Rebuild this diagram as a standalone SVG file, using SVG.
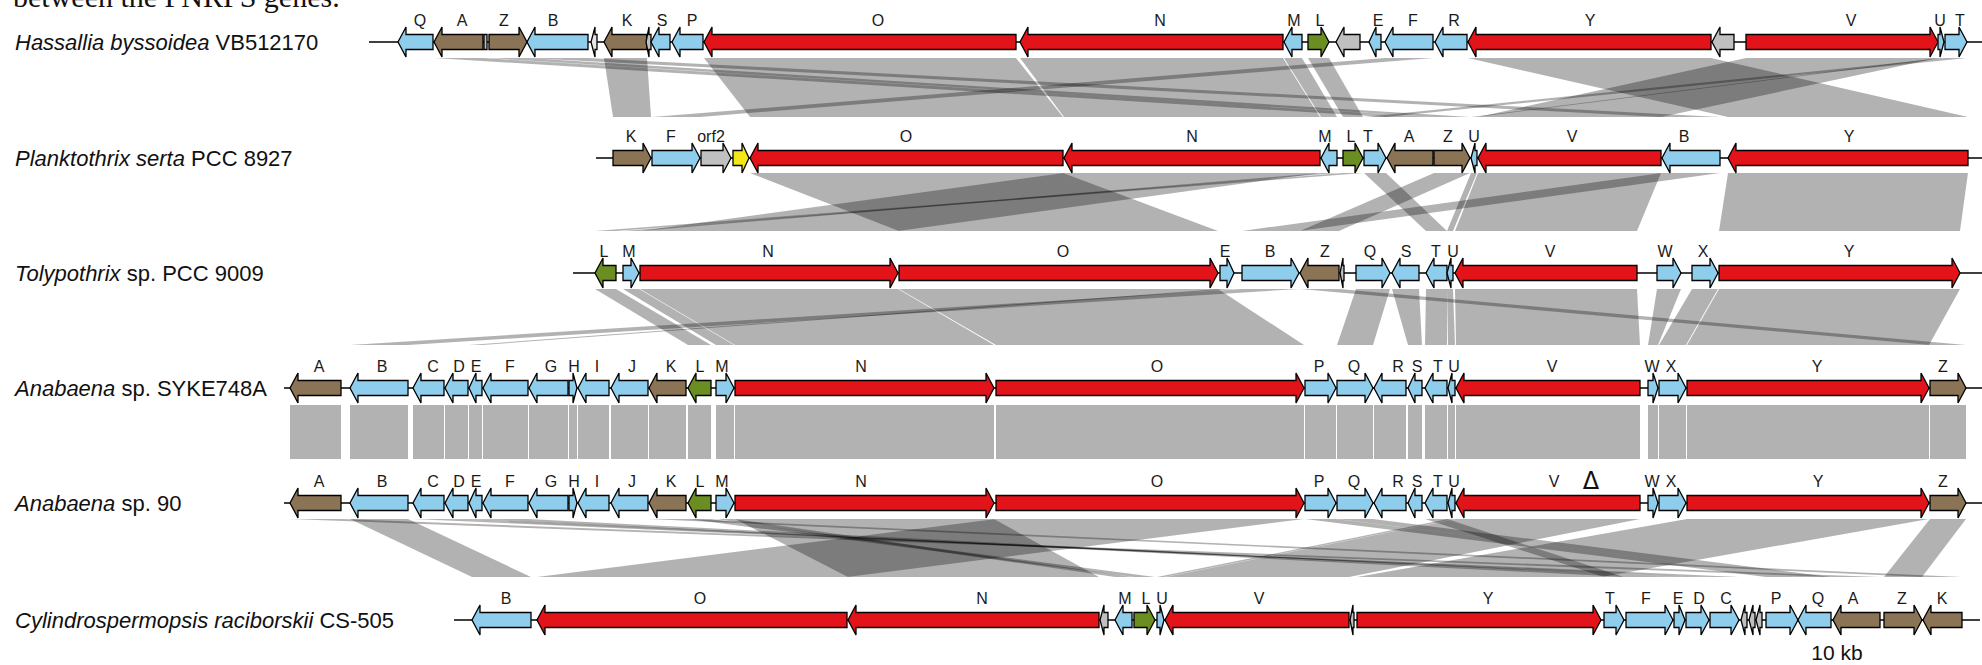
<svg xmlns="http://www.w3.org/2000/svg" width="1982" height="665" viewBox="0 0 1982 665">
<style>
path.g{stroke:#000;stroke-width:1.3;stroke-linejoin:miter}
.b{fill:#8fcdec}.r{fill:#e3131a}.n{fill:#8b7355}.v{fill:#6b8e23}.x{fill:#c0c0c0}.y{fill:#f3e619}.w{fill:#e6e6e6}
text.l{font-family:"Liberation Sans",Arial,sans-serif;font-size:16px;text-anchor:middle;fill:#1a1a1a}
text.nm{font-family:"Liberation Sans",Arial,sans-serif;font-size:22px;fill:#111}
.bb{stroke:#000;stroke-width:1.5}
.band{fill:#000;fill-opacity:0.3;stroke:none}
</style>
<rect width="1982" height="665" fill="#fff"/>
<text x="13" y="7" font-family="Liberation Serif, serif" font-size="30" fill="#111">between the PNRPS genes.</text>

<g id="connectors">
<g id="bands-1-2">
<polygon class="band" points="604,58 647,58 651,117 613,117"/>
<polygon class="band" points="704,58 1016,58 1063,117 750,117"/>
<polygon class="band" points="1020,58 1283,58 1320,117 1064,117"/>
<polygon class="band" points="1284,58 1302,58 1337,117 1321,117"/>
<polygon class="band" points="1308,58 1329,58 1363,117 1343,117"/>
<polygon class="band" points="1945,58 1967,58 1386,117 1364,117"/>
<polygon class="band" points="1938,58 1944,58 1477,117 1471,117"/>
<polygon class="band" points="1746,58 1938,58 1661,117 1478,117"/>
<polygon class="band" points="1468,58 1711,58 1968,117 1728,117"/>
<polygon class="band" points="527,58 588,58 1720,117 1662,117"/>
<polygon class="band" points="434,58 483,58 1433,117 1387,117"/>
<polygon class="band" points="489,58 527,58 1470,117 1434,117"/>
<polygon class="band" points="1385,58 1433,58 700,117 652,117"/>
</g>
<g id="bands-2-3">
<polygon class="band" points="750,173 1063,173 1218,231 899,231"/>
<polygon class="band" points="1064,173 1320,173 898,231 640,231"/>
<polygon class="band" points="1321,173 1337,173 639,231 623,231"/>
<polygon class="band" points="1343,173 1363,173 616,231 595,231"/>
<polygon class="band" points="1364,173 1386,173 1447,231 1426,231"/>
<polygon class="band" points="1434,173 1470,173 1339,231 1300,231"/>
<polygon class="band" points="1471,173 1477,173 1453,231 1447,231"/>
<polygon class="band" points="1478,173 1661,173 1637,231 1455,231"/>
<polygon class="band" points="1662,173 1720,173 1299,231 1242,231"/>
<polygon class="band" points="1728,173 1968,173 1960,231 1719,231"/>
</g>
<g id="bands-3-4">
<polygon class="band" points="595,289 616,289 711,345 688,345"/>
<polygon class="band" points="623,289 639,289 734,345 716,345"/>
<polygon class="band" points="640,289 898,289 994,345 735,345"/>
<polygon class="band" points="899,289 1218,289 1304,345 996,345"/>
<polygon class="band" points="1220,289 1234,289 482,345 469,345"/>
<polygon class="band" points="1242,289 1299,289 408,345 350,345"/>
<polygon class="band" points="1300,289 1339,289 1966,345 1930,345"/>
<polygon class="band" points="1356,289 1390,289 1373,345 1337,345"/>
<polygon class="band" points="1392,289 1419,289 1422,345 1408,345"/>
<polygon class="band" points="1426,289 1447,289 1447,345 1425,345"/>
<polygon class="band" points="1447,289 1453,289 1455,345 1448,345"/>
<polygon class="band" points="1455,289 1637,289 1640,345 1456,345"/>
<polygon class="band" points="1657,289 1681,289 1658,345 1648,345"/>
<polygon class="band" points="1692,289 1718,289 1686,345 1659,345"/>
<polygon class="band" points="1719,289 1960,289 1929,345 1687,345"/>
</g>
<g id="bands-4-5">
<rect class="band" x="290" y="405" width="51" height="54"/>
<rect class="band" x="350" y="405" width="58" height="54"/>
<rect class="band" x="413" y="405" width="31" height="54"/>
<rect class="band" x="445" y="405" width="23" height="54"/>
<rect class="band" x="469" y="405" width="13" height="54"/>
<rect class="band" x="483" y="405" width="45" height="54"/>
<rect class="band" x="529" y="405" width="39" height="54"/>
<rect class="band" x="569" y="405" width="8" height="54"/>
<rect class="band" x="578" y="405" width="31" height="54"/>
<rect class="band" x="611" y="405" width="37" height="54"/>
<rect class="band" x="649" y="405" width="37" height="54"/>
<rect class="band" x="688" y="405" width="23" height="54"/>
<rect class="band" x="716" y="405" width="18" height="54"/>
<rect class="band" x="735" y="405" width="259" height="54"/>
<rect class="band" x="996" y="405" width="308" height="54"/>
<rect class="band" x="1305" y="405" width="31" height="54"/>
<rect class="band" x="1337" y="405" width="36" height="54"/>
<rect class="band" x="1374" y="405" width="32" height="54"/>
<rect class="band" x="1408" y="405" width="14" height="54"/>
<rect class="band" x="1425" y="405" width="22" height="54"/>
<rect class="band" x="1448" y="405" width="7" height="54"/>
<rect class="band" x="1456" y="405" width="184" height="54"/>
<rect class="band" x="1648" y="405" width="10" height="54"/>
<rect class="band" x="1659" y="405" width="27" height="54"/>
<rect class="band" x="1687" y="405" width="242" height="54"/>
<rect class="band" x="1930" y="405" width="36" height="54"/>
</g>
<g id="bands-5-6">
<polygon class="band" points="290,519 341,519 1880,577 1833,577"/>
<polygon class="band" points="350,519 408,519 531,577 472,577"/>
<polygon class="band" points="413,519 444,519 1739,577 1710,577"/>
<polygon class="band" points="445,519 468,519 1709,577 1686,577"/>
<polygon class="band" points="469,519 482,519 1685,577 1674,577"/>
<polygon class="band" points="483,519 528,519 1673,577 1626,577"/>
<polygon class="band" points="649,519 686,519 1962,577 1923,577"/>
<polygon class="band" points="688,519 711,519 1155,577 1134,577"/>
<polygon class="band" points="716,519 734,519 1132,577 1115,577"/>
<polygon class="band" points="735,519 994,519 1099,577 848,577"/>
<polygon class="band" points="996,519 1304,519 847,577 537,577"/>
<polygon class="band" points="1305,519 1336,519 1798,577 1766,577"/>
<polygon class="band" points="1337,519 1373,519 1831,577 1798,577"/>
<polygon class="band" points="1425,519 1447,519 1624,577 1604,577"/>
<polygon class="band" points="1448,519 1455,519 1164,577 1157,577"/>
<polygon class="band" points="1456,519 1640,519 1349,577 1165,577"/>
<polygon class="band" points="1687,519 1929,519 1601,577 1357,577"/>
<polygon class="band" points="1930,519 1966,519 1922,577 1884,577"/>
</g>
</g>

<g id="row1-hassallia" transform="translate(0,42)">
<text class="nm" x="15" y="8"><tspan font-style="italic">Hassallia byssoidea</tspan> VB512170</text>
<line class="bb" x1="369" y1="0" x2="1982" y2="0"/>
<g id="r1-Q"><path class="g b" d="M433,-7.5H406V-15L398,0L406,15V7.5H433Z"/><text class="l" x="420" y="-16">Q</text></g>
<g id="r1-A"><path class="g n" d="M483,-7.5H442V-15L434,0L442,15V7.5H483Z"/><text class="l" x="462" y="-16">A</text></g>
<g id="r1-s1"><path class="g x" d="M484,-7.5H487V7.5H484Z"/></g>
<g id="r1-Z"><path class="g n" d="M489,-7.5H519V-15L527,0L519,15V7.5H489Z"/><text class="l" x="504" y="-16">Z</text></g>
<g id="r1-B"><path class="g b" d="M588,-7.5H535V-15L527,0L535,15V7.5H588Z"/><text class="l" x="553" y="-16">B</text></g>
<g id="r1-s2"><path class="g w" d="M597,-7.5H595V-15L591,0L595,15V7.5H597Z"/></g>
<g id="r1-K"><path class="g n" d="M647,-7.5H612V-15L604,0L612,15V7.5H647Z"/><text class="l" x="627" y="-16">K</text></g>
<g id="r1-s3"><path class="g x" d="M651,-7.5H649V-15L646,0L649,15V7.5H651Z"/></g>
<g id="r1-S"><path class="g b" d="M670,-7.5H659V-15L651,0L659,15V7.5H670Z"/><text class="l" x="662" y="-16">S</text></g>
<g id="r1-P"><path class="g b" d="M703,-7.5H680V-15L672,0L680,15V7.5H703Z"/><text class="l" x="692" y="-16">P</text></g>
<g id="r1-O"><path class="g r" d="M1016,-7.5H712V-15L704,0L712,15V7.5H1016Z"/><text class="l" x="878" y="-16">O</text></g>
<g id="r1-N"><path class="g r" d="M1283,-7.5H1028V-15L1020,0L1028,15V7.5H1283Z"/><text class="l" x="1160" y="-16">N</text></g>
<g id="r1-M"><path class="g b" d="M1302,-7.5H1292V-15L1284,0L1292,15V7.5H1302Z"/><text class="l" x="1294" y="-16">M</text></g>
<g id="r1-L"><path class="g v" d="M1308,-7.5H1321V-15L1329,0L1321,15V7.5H1308Z"/><text class="l" x="1320" y="-16">L</text></g>
<g id="r1-s4"><path class="g x" d="M1360,-7.5H1344V-15L1336,0L1344,15V7.5H1360Z"/></g>
<g id="r1-E"><path class="g b" d="M1381,-7.5H1376V-15L1369,0L1376,15V7.5H1381Z"/><text class="l" x="1378" y="-16">E</text></g>
<g id="r1-F"><path class="g b" d="M1433,-7.5H1393V-15L1385,0L1393,15V7.5H1433Z"/><text class="l" x="1413" y="-16">F</text></g>
<g id="r1-R"><path class="g b" d="M1467,-7.5H1443V-15L1435,0L1443,15V7.5H1467Z"/><text class="l" x="1454" y="-16">R</text></g>
<g id="r1-Y"><path class="g r" d="M1711,-7.5H1476V-15L1468,0L1476,15V7.5H1711Z"/><text class="l" x="1590" y="-16">Y</text></g>
<g id="r1-s5"><path class="g x" d="M1734,-7.5H1720V-15L1712,0L1720,15V7.5H1734Z"/></g>
<g id="r1-V"><path class="g r" d="M1746,-7.5H1930V-15L1938,0L1930,15V7.5H1746Z"/><text class="l" x="1851" y="-16">V</text></g>
<g id="r1-U"><path class="g b" d="M1938,-7.5H1940V-15L1944,0L1940,15V7.5H1938Z"/><text class="l" x="1940" y="-16">U</text></g>
<g id="r1-T"><path class="g b" d="M1945,-7.5H1959V-15L1967,0L1959,15V7.5H1945Z"/><text class="l" x="1960" y="-16">T</text></g>
</g>

<g id="row2-planktothrix" transform="translate(0,158)">
<text class="nm" x="15" y="8"><tspan font-style="italic">Planktothrix serta</tspan> PCC 8927</text>
<line class="bb" x1="596" y1="0" x2="1982" y2="0"/>
<g id="r2-K"><path class="g n" d="M613,-7.5H643V-15L651,0L643,15V7.5H613Z"/><text class="l" x="631" y="-16">K</text></g>
<g id="r2-F"><path class="g b" d="M652,-7.5H692V-15L700,0L692,15V7.5H652Z"/><text class="l" x="671" y="-16">F</text></g>
<g id="r2-orf2"><path class="g x" d="M701,-7.5H723V-15L731,0L723,15V7.5H701Z"/><text class="l" x="711" y="-16">orf2</text></g>
<g id="r2-y"><path class="g y" d="M733,-7.5H742V-15L749,0L742,15V7.5H733Z"/></g>
<g id="r2-O"><path class="g r" d="M1063,-7.5H758V-15L750,0L758,15V7.5H1063Z"/><text class="l" x="906" y="-16">O</text></g>
<g id="r2-N"><path class="g r" d="M1320,-7.5H1072V-15L1064,0L1072,15V7.5H1320Z"/><text class="l" x="1192" y="-16">N</text></g>
<g id="r2-M"><path class="g b" d="M1337,-7.5H1329V-15L1321,0L1329,15V7.5H1337Z"/><text class="l" x="1325" y="-16">M</text></g>
<g id="r2-L"><path class="g v" d="M1343,-7.5H1355V-15L1363,0L1355,15V7.5H1343Z"/><text class="l" x="1351" y="-16">L</text></g>
<g id="r2-T"><path class="g b" d="M1364,-7.5H1378V-15L1386,0L1378,15V7.5H1364Z"/><text class="l" x="1368" y="-16">T</text></g>
<g id="r2-A"><path class="g n" d="M1433,-7.5H1395V-15L1387,0L1395,15V7.5H1433Z"/><text class="l" x="1409" y="-16">A</text></g>
<g id="r2-Z"><path class="g n" d="M1434,-7.5H1462V-15L1470,0L1462,15V7.5H1434Z"/><text class="l" x="1448" y="-16">Z</text></g>
<g id="r2-U"><path class="g b" d="M1477,-7.5H1475V-15L1471,0L1475,15V7.5H1477Z"/><text class="l" x="1474" y="-16">U</text></g>
<g id="r2-V"><path class="g r" d="M1661,-7.5H1486V-15L1478,0L1486,15V7.5H1661Z"/><text class="l" x="1572" y="-16">V</text></g>
<g id="r2-B"><path class="g b" d="M1720,-7.5H1670V-15L1662,0L1670,15V7.5H1720Z"/><text class="l" x="1684" y="-16">B</text></g>
<g id="r2-Y"><path class="g r" d="M1968,-7.5H1736V-15L1728,0L1736,15V7.5H1968Z"/><text class="l" x="1849" y="-16">Y</text></g>
</g>

<g id="row3-tolypothrix" transform="translate(0,273)">
<text class="nm" x="15" y="8"><tspan font-style="italic">Tolypothrix</tspan> sp. PCC 9009</text>
<line class="bb" x1="573" y1="0" x2="1982" y2="0"/>
<g id="r3-L"><path class="g v" d="M616,-7.5H603V-15L595,0L603,15V7.5H616Z"/><text class="l" x="604" y="-16">L</text></g>
<g id="r3-M"><path class="g b" d="M623,-7.5H631V-15L639,0L631,15V7.5H623Z"/><text class="l" x="629" y="-16">M</text></g>
<g id="r3-N"><path class="g r" d="M640,-7.5H890V-15L898,0L890,15V7.5H640Z"/><text class="l" x="768" y="-16">N</text></g>
<g id="r3-O"><path class="g r" d="M899,-7.5H1210V-15L1218,0L1210,15V7.5H899Z"/><text class="l" x="1063" y="-16">O</text></g>
<g id="r3-E"><path class="g b" d="M1220,-7.5H1227V-15L1234,0L1227,15V7.5H1220Z"/><text class="l" x="1225" y="-16">E</text></g>
<g id="r3-B"><path class="g b" d="M1242,-7.5H1291V-15L1299,0L1291,15V7.5H1242Z"/><text class="l" x="1270" y="-16">B</text></g>
<g id="r3-Z"><path class="g n" d="M1339,-7.5H1308V-15L1300,0L1308,15V7.5H1339Z"/><text class="l" x="1325" y="-16">Z</text></g>
<g id="r3-s1"><path class="g x" d="M1344,-7.5H1343V-15L1340,0L1343,15V7.5H1344Z"/></g>
<g id="r3-Q"><path class="g b" d="M1356,-7.5H1382V-15L1390,0L1382,15V7.5H1356Z"/><text class="l" x="1370" y="-16">Q</text></g>
<g id="r3-S"><path class="g b" d="M1419,-7.5H1400V-15L1392,0L1400,15V7.5H1419Z"/><text class="l" x="1406" y="-16">S</text></g>
<g id="r3-T"><path class="g b" d="M1447,-7.5H1434V-15L1426,0L1434,15V7.5H1447Z"/><text class="l" x="1436" y="-16">T</text></g>
<g id="r3-U"><path class="g b" d="M1453,-7.5H1451V-15L1447,0L1451,15V7.5H1453Z"/><text class="l" x="1453" y="-16">U</text></g>
<g id="r3-V"><path class="g r" d="M1637,-7.5H1463V-15L1455,0L1463,15V7.5H1637Z"/><text class="l" x="1550" y="-16">V</text></g>
<g id="r3-W"><path class="g b" d="M1657,-7.5H1673V-15L1681,0L1673,15V7.5H1657Z"/><text class="l" x="1665" y="-16">W</text></g>
<g id="r3-X"><path class="g b" d="M1692,-7.5H1710V-15L1718,0L1710,15V7.5H1692Z"/><text class="l" x="1703" y="-16">X</text></g>
<g id="r3-Y"><path class="g r" d="M1719,-7.5H1952V-15L1960,0L1952,15V7.5H1719Z"/><text class="l" x="1849" y="-16">Y</text></g>
</g>

<g id="row4-anabaena-syke748a" transform="translate(0,388)">
<text class="nm" x="15" y="8"><tspan font-style="italic">Anabaena</tspan> sp. SYKE748A</text>
<line class="bb" x1="284" y1="0" x2="1982" y2="0"/>
<g id="r4-A"><path class="g n" d="M341,-7.5H298V-15L290,0L298,15V7.5H341Z"/><text class="l" x="319" y="-16">A</text></g>
<g id="r4-B"><path class="g b" d="M408,-7.5H358V-15L350,0L358,15V7.5H408Z"/><text class="l" x="382" y="-16">B</text></g>
<g id="r4-C"><path class="g b" d="M444,-7.5H421V-15L413,0L421,15V7.5H444Z"/><text class="l" x="433" y="-16">C</text></g>
<g id="r4-D"><path class="g b" d="M468,-7.5H453V-15L445,0L453,15V7.5H468Z"/><text class="l" x="459" y="-16">D</text></g>
<g id="r4-E"><path class="g b" d="M482,-7.5H476V-15L469,0L476,15V7.5H482Z"/><text class="l" x="476" y="-16">E</text></g>
<g id="r4-F"><path class="g b" d="M528,-7.5H491V-15L483,0L491,15V7.5H528Z"/><text class="l" x="510" y="-16">F</text></g>
<g id="r4-G"><path class="g b" d="M568,-7.5H537V-15L529,0L537,15V7.5H568Z"/><text class="l" x="551" y="-16">G</text></g>
<g id="r4-H"><path class="g b" d="M569,-7.5H573V-15L577,0L573,15V7.5H569Z"/><text class="l" x="574" y="-16">H</text></g>
<g id="r4-I"><path class="g b" d="M609,-7.5H586V-15L578,0L586,15V7.5H609Z"/><text class="l" x="597" y="-16">I</text></g>
<g id="r4-J"><path class="g b" d="M648,-7.5H619V-15L611,0L619,15V7.5H648Z"/><text class="l" x="632" y="-16">J</text></g>
<g id="r4-K"><path class="g n" d="M686,-7.5H657V-15L649,0L657,15V7.5H686Z"/><text class="l" x="671" y="-16">K</text></g>
<g id="r4-L"><path class="g v" d="M711,-7.5H696V-15L688,0L696,15V7.5H711Z"/><text class="l" x="700" y="-16">L</text></g>
<g id="r4-M"><path class="g b" d="M716,-7.5H726V-15L734,0L726,15V7.5H716Z"/><text class="l" x="722" y="-16">M</text></g>
<g id="r4-N"><path class="g r" d="M735,-7.5H986V-15L994,0L986,15V7.5H735Z"/><text class="l" x="861" y="-16">N</text></g>
<g id="r4-O"><path class="g r" d="M996,-7.5H1296V-15L1304,0L1296,15V7.5H996Z"/><text class="l" x="1157" y="-16">O</text></g>
<g id="r4-P"><path class="g b" d="M1305,-7.5H1328V-15L1336,0L1328,15V7.5H1305Z"/><text class="l" x="1319" y="-16">P</text></g>
<g id="r4-Q"><path class="g b" d="M1337,-7.5H1365V-15L1373,0L1365,15V7.5H1337Z"/><text class="l" x="1354" y="-16">Q</text></g>
<g id="r4-R"><path class="g b" d="M1406,-7.5H1382V-15L1374,0L1382,15V7.5H1406Z"/><text class="l" x="1398" y="-16">R</text></g>
<g id="r4-S"><path class="g b" d="M1422,-7.5H1415V-15L1408,0L1415,15V7.5H1422Z"/><text class="l" x="1417" y="-16">S</text></g>
<g id="r4-T"><path class="g b" d="M1447,-7.5H1433V-15L1425,0L1433,15V7.5H1447Z"/><text class="l" x="1438" y="-16">T</text></g>
<g id="r4-U"><path class="g b" d="M1455,-7.5H1452V-15L1448,0L1452,15V7.5H1455Z"/><text class="l" x="1454" y="-16">U</text></g>
<g id="r4-V"><path class="g r" d="M1640,-7.5H1464V-15L1456,0L1464,15V7.5H1640Z"/><text class="l" x="1552" y="-16">V</text></g>
<g id="r4-W"><path class="g b" d="M1648,-7.5H1653V-15L1658,0L1653,15V7.5H1648Z"/><text class="l" x="1652" y="-16">W</text></g>
<g id="r4-X"><path class="g b" d="M1659,-7.5H1678V-15L1686,0L1678,15V7.5H1659Z"/><text class="l" x="1671" y="-16">X</text></g>
<g id="r4-Y"><path class="g r" d="M1687,-7.5H1921V-15L1929,0L1921,15V7.5H1687Z"/><text class="l" x="1817" y="-16">Y</text></g>
<g id="r4-Z"><path class="g n" d="M1930,-7.5H1958V-15L1966,0L1958,15V7.5H1930Z"/><text class="l" x="1943" y="-16">Z</text></g>
</g>

<g id="row5-anabaena-90" transform="translate(0,503)">
<text class="nm" x="15" y="8"><tspan font-style="italic">Anabaena</tspan> sp. 90</text>
<line class="bb" x1="284" y1="0" x2="1982" y2="0"/>
<g id="r5-A"><path class="g n" d="M341,-7.5H298V-15L290,0L298,15V7.5H341Z"/><text class="l" x="319" y="-16">A</text></g>
<g id="r5-B"><path class="g b" d="M408,-7.5H358V-15L350,0L358,15V7.5H408Z"/><text class="l" x="382" y="-16">B</text></g>
<g id="r5-C"><path class="g b" d="M444,-7.5H421V-15L413,0L421,15V7.5H444Z"/><text class="l" x="433" y="-16">C</text></g>
<g id="r5-D"><path class="g b" d="M468,-7.5H453V-15L445,0L453,15V7.5H468Z"/><text class="l" x="459" y="-16">D</text></g>
<g id="r5-E"><path class="g b" d="M482,-7.5H476V-15L469,0L476,15V7.5H482Z"/><text class="l" x="476" y="-16">E</text></g>
<g id="r5-F"><path class="g b" d="M528,-7.5H491V-15L483,0L491,15V7.5H528Z"/><text class="l" x="510" y="-16">F</text></g>
<g id="r5-G"><path class="g b" d="M568,-7.5H537V-15L529,0L537,15V7.5H568Z"/><text class="l" x="551" y="-16">G</text></g>
<g id="r5-H"><path class="g b" d="M569,-7.5H573V-15L577,0L573,15V7.5H569Z"/><text class="l" x="574" y="-16">H</text></g>
<g id="r5-I"><path class="g b" d="M609,-7.5H586V-15L578,0L586,15V7.5H609Z"/><text class="l" x="597" y="-16">I</text></g>
<g id="r5-J"><path class="g b" d="M648,-7.5H619V-15L611,0L619,15V7.5H648Z"/><text class="l" x="632" y="-16">J</text></g>
<g id="r5-K"><path class="g n" d="M686,-7.5H657V-15L649,0L657,15V7.5H686Z"/><text class="l" x="671" y="-16">K</text></g>
<g id="r5-L"><path class="g v" d="M711,-7.5H696V-15L688,0L696,15V7.5H711Z"/><text class="l" x="700" y="-16">L</text></g>
<g id="r5-M"><path class="g b" d="M716,-7.5H726V-15L734,0L726,15V7.5H716Z"/><text class="l" x="722" y="-16">M</text></g>
<g id="r5-N"><path class="g r" d="M735,-7.5H986V-15L994,0L986,15V7.5H735Z"/><text class="l" x="861" y="-16">N</text></g>
<g id="r5-O"><path class="g r" d="M996,-7.5H1296V-15L1304,0L1296,15V7.5H996Z"/><text class="l" x="1157" y="-16">O</text></g>
<g id="r5-P"><path class="g b" d="M1305,-7.5H1328V-15L1336,0L1328,15V7.5H1305Z"/><text class="l" x="1319" y="-16">P</text></g>
<g id="r5-Q"><path class="g b" d="M1337,-7.5H1365V-15L1373,0L1365,15V7.5H1337Z"/><text class="l" x="1354" y="-16">Q</text></g>
<g id="r5-R"><path class="g b" d="M1406,-7.5H1382V-15L1374,0L1382,15V7.5H1406Z"/><text class="l" x="1398" y="-16">R</text></g>
<g id="r5-S"><path class="g b" d="M1422,-7.5H1415V-15L1408,0L1415,15V7.5H1422Z"/><text class="l" x="1417" y="-16">S</text></g>
<g id="r5-T"><path class="g b" d="M1447,-7.5H1433V-15L1425,0L1433,15V7.5H1447Z"/><text class="l" x="1438" y="-16">T</text></g>
<g id="r5-U"><path class="g b" d="M1455,-7.5H1452V-15L1448,0L1452,15V7.5H1455Z"/><text class="l" x="1454" y="-16">U</text></g>
<g id="r5-V"><path class="g r" d="M1640,-7.5H1464V-15L1456,0L1464,15V7.5H1640Z"/><text class="l" x="1554" y="-16">V</text><text x="1591" y="-14" font-family="DejaVu Sans, sans-serif" font-size="24" text-anchor="middle" fill="#111">Δ</text></g>
<g id="r5-W"><path class="g b" d="M1648,-7.5H1653V-15L1658,0L1653,15V7.5H1648Z"/><text class="l" x="1652" y="-16">W</text></g>
<g id="r5-X"><path class="g b" d="M1659,-7.5H1678V-15L1686,0L1678,15V7.5H1659Z"/><text class="l" x="1671" y="-16">X</text></g>
<g id="r5-Y"><path class="g r" d="M1687,-7.5H1921V-15L1929,0L1921,15V7.5H1687Z"/><text class="l" x="1818" y="-16">Y</text></g>
<g id="r5-Z"><path class="g n" d="M1930,-7.5H1958V-15L1966,0L1958,15V7.5H1930Z"/><text class="l" x="1943" y="-16">Z</text></g>
</g>

<g id="row6-cylindrospermopsis" transform="translate(0,620)">
<text class="nm" x="15" y="8"><tspan font-style="italic">Cylindrospermopsis raciborskii</tspan> CS-505</text>
<line class="bb" x1="454" y1="0" x2="1980" y2="0"/>
<g id="r6-B"><path class="g b" d="M531,-7.5H480V-15L472,0L480,15V7.5H531Z"/><text class="l" x="506" y="-16">B</text></g>
<g id="r6-O"><path class="g r" d="M847,-7.5H545V-15L537,0L545,15V7.5H847Z"/><text class="l" x="700" y="-16">O</text></g>
<g id="r6-N"><path class="g r" d="M1099,-7.5H856V-15L848,0L856,15V7.5H1099Z"/><text class="l" x="982" y="-16">N</text></g>
<g id="r6-s1"><path class="g x" d="M1108,-7.5H1104V-15L1100,0L1104,15V7.5H1108Z"/></g>
<g id="r6-M"><path class="g b" d="M1132,-7.5H1123V-15L1115,0L1123,15V7.5H1132Z"/><text class="l" x="1125" y="-16">M</text></g>
<g id="r6-L"><path class="g v" d="M1134,-7.5H1147V-15L1155,0L1147,15V7.5H1134Z"/><text class="l" x="1146" y="-16">L</text></g>
<g id="r6-U"><path class="g b" d="M1157,-7.5H1160V-15L1164,0L1160,15V7.5H1157Z"/><text class="l" x="1162" y="-16">U</text></g>
<g id="r6-V"><path class="g r" d="M1349,-7.5H1173V-15L1165,0L1173,15V7.5H1349Z"/><text class="l" x="1259" y="-16">V</text></g>
<g id="r6-s2"><path class="g x" d="M1354,-7.5H1353V-15L1350,0L1353,15V7.5H1354Z"/></g>
<g id="r6-Y"><path class="g r" d="M1357,-7.5H1593V-15L1601,0L1593,15V7.5H1357Z"/><text class="l" x="1488" y="-16">Y</text></g>
<g id="r6-T"><path class="g b" d="M1604,-7.5H1616V-15L1624,0L1616,15V7.5H1604Z"/><text class="l" x="1610" y="-16">T</text></g>
<g id="r6-F"><path class="g b" d="M1626,-7.5H1665V-15L1673,0L1665,15V7.5H1626Z"/><text class="l" x="1646" y="-16">F</text></g>
<g id="r6-E"><path class="g b" d="M1674,-7.5H1679V-15L1685,0L1679,15V7.5H1674Z"/><text class="l" x="1678" y="-16">E</text></g>
<g id="r6-D"><path class="g b" d="M1686,-7.5H1701V-15L1709,0L1701,15V7.5H1686Z"/><text class="l" x="1699" y="-16">D</text></g>
<g id="r6-C"><path class="g b" d="M1710,-7.5H1731V-15L1739,0L1731,15V7.5H1710Z"/><text class="l" x="1726" y="-16">C</text></g>
<g id="r6-s3"><path class="g x" d="M1747,-7.5H1745V-15L1741,0L1745,15V7.5H1747Z"/></g>
<g id="r6-s4"><path class="g x" d="M1755,-7.5H1753V-15L1749,0L1753,15V7.5H1755Z"/></g>
<g id="r6-s5"><path class="g x" d="M1762,-7.5H1760V-15L1756,0L1760,15V7.5H1762Z"/></g>
<g id="r6-P"><path class="g b" d="M1766,-7.5H1790V-15L1798,0L1790,15V7.5H1766Z"/><text class="l" x="1776" y="-16">P</text></g>
<g id="r6-Q"><path class="g b" d="M1831,-7.5H1806V-15L1798,0L1806,15V7.5H1831Z"/><text class="l" x="1818" y="-16">Q</text></g>
<g id="r6-A"><path class="g n" d="M1880,-7.5H1841V-15L1833,0L1841,15V7.5H1880Z"/><text class="l" x="1853" y="-16">A</text></g>
<g id="r6-Z"><path class="g n" d="M1884,-7.5H1914V-15L1922,0L1914,15V7.5H1884Z"/><text class="l" x="1902" y="-16">Z</text></g>
<g id="r6-K"><path class="g n" d="M1962,-7.5H1931V-15L1923,0L1931,15V7.5H1962Z"/><text class="l" x="1942" y="-16">K</text></g>
</g>
<text id="scale-label" x="1837" y="660" font-family="Liberation Sans, Arial, sans-serif" font-size="21" text-anchor="middle" fill="#111">10 kb</text>
</svg>
